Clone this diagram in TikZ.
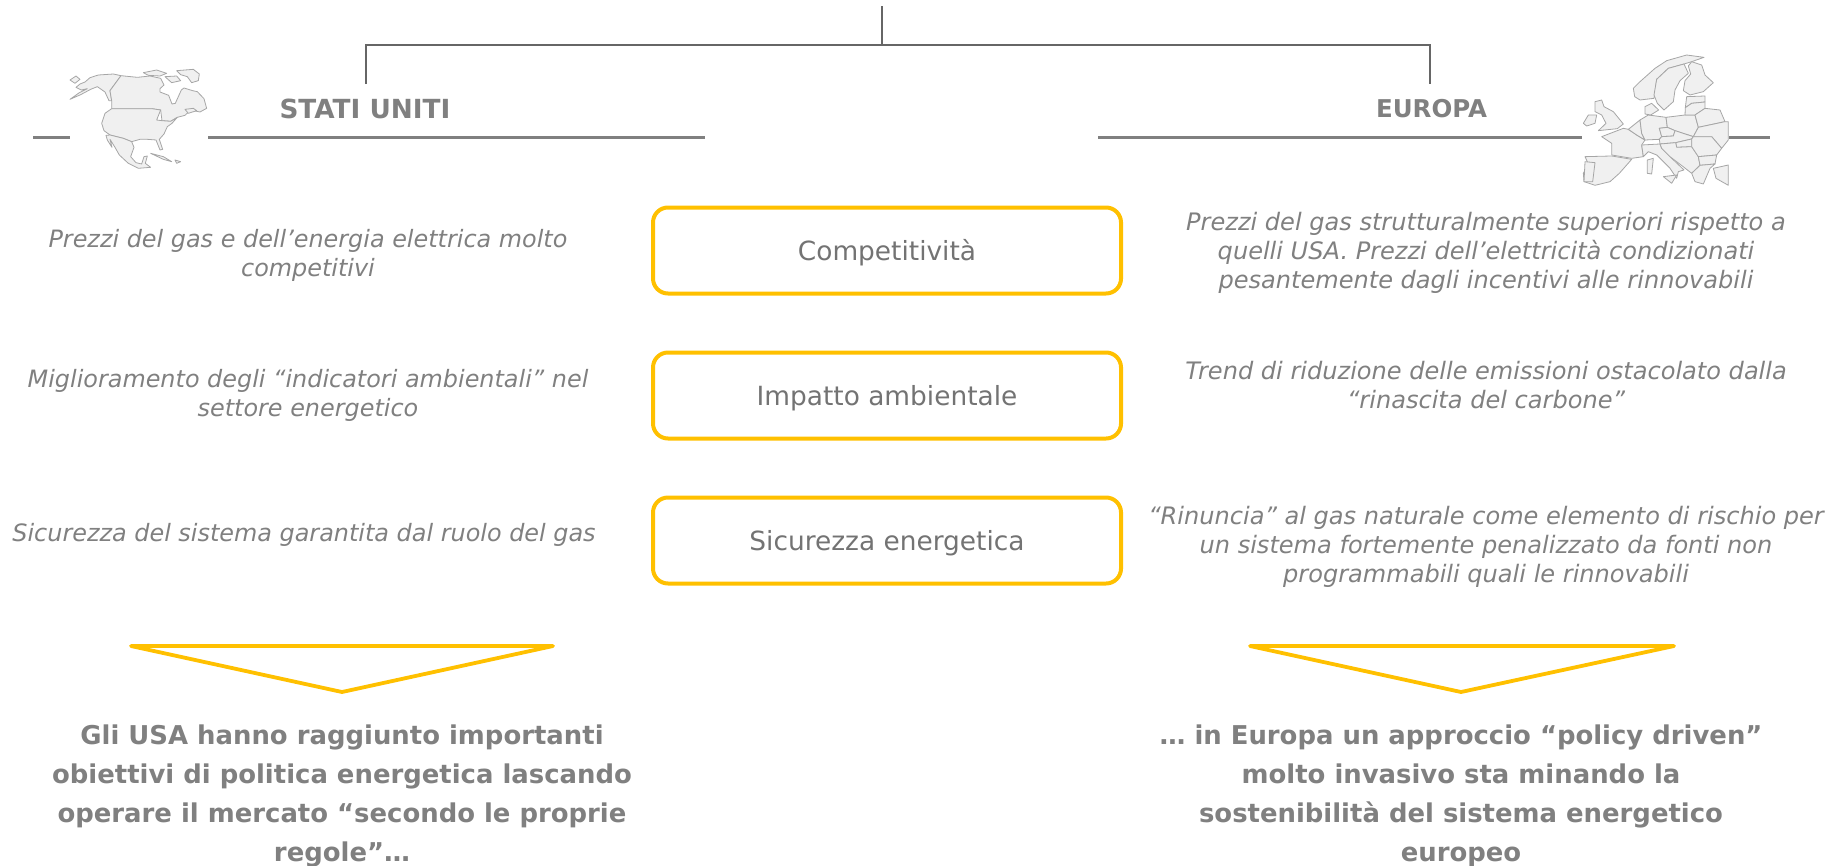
\documentclass[tikz,border=0pt]{standalone}
\usepackage{fontspec}
\setmainfont{DejaVu Sans}
\definecolor{ambra}{HTML}{FFC000}
\definecolor{txtg}{HTML}{808080}
\definecolor{boxg}{HTML}{737373}
\definecolor{treeg}{HTML}{666666}
\definecolor{rulg}{HTML}{808080}
\definecolor{mapf}{HTML}{F0F0F0}
\definecolor{mapd}{HTML}{A6A6A6}
\tikzset{
 pill/.style={draw=ambra,line width=4pt,rounded corners=15pt,minimum width=468pt,minimum height=86pt,text=boxg,font=\fontsize{26.4}{30}\selectfont,inner sep=0pt,text height=25pt,text depth=6pt},
 noteline/.style={text=txtg,align=center,inner sep=0pt,font=\fontsize{23.9}{29}\selectfont\itshape},
 noteright/.style={noteline,font=\fontsize{24.05}{29}\selectfont\itshape},
 concl/.style={text=txtg,align=center,inner sep=0pt,font=\fontsize{25.9}{39}\selectfont\bfseries},
 head/.style={text=txtg,inner sep=0pt},
 tree/.style={draw=treeg,line width=1.8pt},
 rulel/.style={draw=rulg,line width=3pt},
 tri/.style={draw=ambra,line width=3.8pt,line join=round},
 land/.style={draw=mapd,fill=mapf,line width=0.8pt,line join=round},
}
\begin{document}
\begin{tikzpicture}[x=1pt,y=-1pt]
\useasboundingbox (0,0) rectangle (1835,865);
% tree
\coordinate (t0) at (882,6);
\coordinate (t1) at (882,45);
\coordinate (tl) at (366,45);
\coordinate (tle) at (366,84);
\coordinate (tr) at (1430,45);
\coordinate (tre) at (1430,84);
\draw[tree] (t0) -- (t1);
\draw[tree] (tle) -- (tl) -- (tr) -- (tre);
% rules
\coordinate (a1) at (33,137); \coordinate (a2) at (70,137);
\coordinate (a3) at (208,137); \coordinate (a4) at (705,137);
\coordinate (b1) at (1098,137); \coordinate (b2) at (1582,137);
\coordinate (b3) at (1729,137); \coordinate (b4) at (1770,137);
\draw[rulel] (a1) -- (a2);
\draw[rulel] (a3) -- (a4);
\draw[rulel] (b1) -- (b2);
\draw[rulel] (b3) -- (b4);
% North America
\begin{scope}[shift={(60,60)},x=0.3333pt,y=-0.3333pt]
 % Alaska
 \draw[land] (48,82) -- (60,72) -- (75,66) -- (90,53) -- (115,45) -- (160,42) -- (183,47) -- (150,92) -- (155,122) -- (147,122) -- (135,96) -- (112,80) -- (92,88) -- (62,104) -- (30,118) -- (58,98) -- (82,86) -- (64,90) -- cycle;
 % Canada
 \draw[land] (183,47) -- (232,52) -- (270,48) -- (302,55) -- (312,75) -- (300,86) -- (300,96) -- (326,106) -- (336,132) -- (346,130) -- (364,90) -- (372,84) -- (398,92) -- (412,95) -- (432,116) -- (440,145) -- (420,156) -- (392,150) -- (375,166) -- (352,172) -- (332,184) -- (306,182) -- (302,150) -- (275,146) -- (155,146) -- (155,122) -- (150,92) -- cycle;
 % arctic islands
 \draw[land] (250,38) -- (290,30) -- (320,40) -- (300,48) -- (265,46) -- cycle;
 \draw[land] (350,32) -- (400,28) -- (418,42) -- (415,62) -- (395,68) -- (382,50) -- (362,44) -- cycle;
 \draw[land] (315,50) -- (350,48) -- (362,62) -- (335,68) -- cycle;
 % USA
 \draw[land] (155,146) -- (275,146) -- (302,150) -- (290,180) -- (306,182) -- (332,184) -- (352,172) -- (336,190) -- (322,200) -- (312,222) -- (298,238) -- (308,268) -- (300,270) -- (288,240) -- (262,238) -- (240,238) -- (215,245) -- (190,235) -- (150,225) -- (132,212) -- (125,190) -- (135,160) -- cycle;
 % Mexico + Central America
 \draw[land] (138,226) -- (150,225) -- (190,235) -- (215,245) -- (222,262) -- (212,290) -- (228,308) -- (245,312) -- (252,290) -- (262,288) -- (256,310) -- (272,322) -- (235,325) -- (205,310) -- (178,285) -- (165,262) -- (150,238) -- (156,262) -- (142,240) -- cycle;
 \draw[land] (375,148) -- (400,145) -- (410,152) -- (385,160) -- cycle;
 \draw[land] (272,280) -- (310,290) -- (335,305) -- (310,298) -- cycle;
 \draw[land] (345,300) -- (362,305) -- (350,310) -- cycle;
 \draw[land] (30,60) -- (48,48) -- (60,58) -- (45,70) -- cycle;
\end{scope}
% Europe
\begin{scope}[shift={(1560,40)},x=0.3333pt,y=-0.3333pt]
 \draw[land] (220,145) -- (240,125) -- (285,85) -- (320,62) -- (380,45) -- (432,52) -- (395,65) -- (372,72) -- (325,85) -- (290,118) -- (282,175) -- (240,180) -- (224,170) -- cycle;
 \draw[land] (325,85) -- (372,72) -- (385,100) -- (360,122) -- (345,150) -- (340,185) -- (312,210) -- (292,190) -- (282,165) -- (290,118) -- cycle;
 \draw[land] (395,65) -- (425,75) -- (435,105) -- (460,128) -- (430,155) -- (390,165) -- (370,152) -- (375,122) -- (392,102) -- (385,78) -- cycle;
 \draw[land] (105,185) -- (125,180) -- (132,200) -- (160,215) -- (190,252) -- (172,266) -- (115,272) -- (138,250) -- (125,225) -- (105,215) -- cycle;
 \draw[land] (70,250) -- (85,225) -- (110,225) -- (105,250) -- (80,258) -- cycle;
 \draw[land] (125,290) -- (190,265) -- (205,268) -- (230,285) -- (255,300) -- (245,315) -- (250,350) -- (215,355) -- (155,345) -- (155,310) -- cycle;
 \draw[land] (75,350) -- (155,348) -- (215,358) -- (178,400) -- (150,425) -- (105,436) -- (72,425) -- (70,400) -- (85,372) -- cycle;
 \draw[land] (75,365) -- (105,368) -- (98,425) -- (72,425) -- cycle;
 \draw[land] (205,268) -- (240,240) -- (245,280) -- (255,300) -- (230,285) -- cycle;
 \draw[land] (240,240) -- (265,225) -- (318,232) -- (322,262) -- (298,265) -- (305,290) -- (298,298) -- (255,300) -- (245,280) -- cycle;
 \draw[land] (255,200) -- (275,190) -- (296,210) -- (272,225) -- (255,222) -- cycle;
 \draw[land] (318,232) -- (375,225) -- (405,225) -- (415,262) -- (400,290) -- (345,272) -- (322,262) -- cycle;
 \draw[land] (298,265) -- (322,262) -- (345,272) -- (340,288) -- (305,290) -- cycle;
 \draw[land] (305,290) -- (340,288) -- (345,272) -- (400,290) -- (395,297) -- (347,308) -- (300,312) -- (298,298) -- cycle;
 \draw[land] (347,308) -- (395,297) -- (395,320) -- (350,322) -- cycle;
 \draw[land] (245,315) -- (300,312) -- (305,325) -- (330,350) -- (372,390) -- (355,395) -- (350,415) -- (330,385) -- (290,345) -- (265,335) -- (250,350) -- cycle;
 \draw[land] (305,325) -- (300,312) -- (347,308) -- (350,322) -- (395,320) -- (415,350) -- (420,376) -- (395,400) -- (372,382) -- (330,350) -- cycle;
 \draw[land] (310,410) -- (350,405) -- (335,430) -- cycle;
 \draw[land] (262,360) -- (280,355) -- (275,402) -- (262,400) -- cycle;
 \draw[land] (380,170) -- (435,168) -- (435,186) -- (395,190) -- (376,203) -- cycle;
 \draw[land] (376,203) -- (395,190) -- (435,186) -- (435,205) -- (405,225) -- (375,225) -- cycle;
 \draw[land] (405,225) -- (435,205) -- (480,210) -- (495,245) -- (415,262) -- cycle;
 \draw[land] (400,290) -- (415,262) -- (495,245) -- (505,245) -- (505,300) -- (485,325) -- (455,290) -- cycle;
 \draw[land] (395,297) -- (400,290) -- (455,290) -- (485,325) -- (470,345) -- (415,350) -- (395,320) -- cycle;
 \draw[land] (415,350) -- (470,345) -- (465,372) -- (420,376) -- cycle;
 \draw[land] (395,400) -- (420,376) -- (465,372) -- (450,385) -- (430,432) -- (405,425) -- cycle;
 \draw[land] (460,385) -- (505,375) -- (505,436) -- (468,415) -- cycle;
\end{scope}
% heads
\node[head,font=\fontsize{26.3}{30}\selectfont\bfseries] (us) at (365,109) {STATI UNITI};
\node[head,font=\fontsize{24.5}{30}\selectfont\bfseries] (eu) at (1431.5,109) {EUROPA};
% boxes
\node[pill] (c1) at (887,250.5) {Competitività};
\node[pill] (c2) at (887,395.5) {Impatto ambientale};
\node[pill] (c3) at (887,540.5) {Sicurezza energetica};
% notes
\node[noteline] (l1) at (308,255) {Prezzi del gas e dell’energia elettrica molto\\competitivi};
\node[noteline] (l2) at (308,395) {Miglioramento degli “indicatori ambientali” nel\\settore energetico};
\node[noteline] (l3) at (304,535) {Sicurezza del sistema garantita dal ruolo del gas};
\node[noteright] (r1) at (1486,253) {Prezzi del gas strutturalmente superiori rispetto a\\quelli USA. Prezzi dell’elettricità condizionati\\pesantemente dagli incentivi alle rinnovabili};
\node[noteright] (r2) at (1486,385) {Trend di riduzione delle emissioni ostacolato dalla\\“rinascita del carbone”};
\node[noteright] (r3) at (1486,547) {“Rinuncia” al gas naturale come elemento di rischio per\\un sistema fortemente penalizzato da fonti non\\programmabili quali le rinnovabili};
% triangles
\coordinate (p1) at (131,646); \coordinate (p2) at (553,646); \coordinate (p3) at (342,692);
\coordinate (q1) at (1250,646); \coordinate (q2) at (1674,646); \coordinate (q3) at (1461,692);
\draw[tri] (p1) -- (p2) -- (p3) -- cycle;
\draw[tri] (q1) -- (q2) -- (q3) -- cycle;
% conclusions
\node[concl] (cl) at (342,796) {Gli USA hanno raggiunto importanti\\obiettivi di politica energetica lascando\\operare il mercato “secondo le proprie\\regole”…};
\node[concl] (cr) at (1461,796) {… in Europa un approccio “policy driven”\\molto invasivo sta minando la\\sostenibilità del sistema energetico\\europeo};
\end{tikzpicture}
\end{document}
